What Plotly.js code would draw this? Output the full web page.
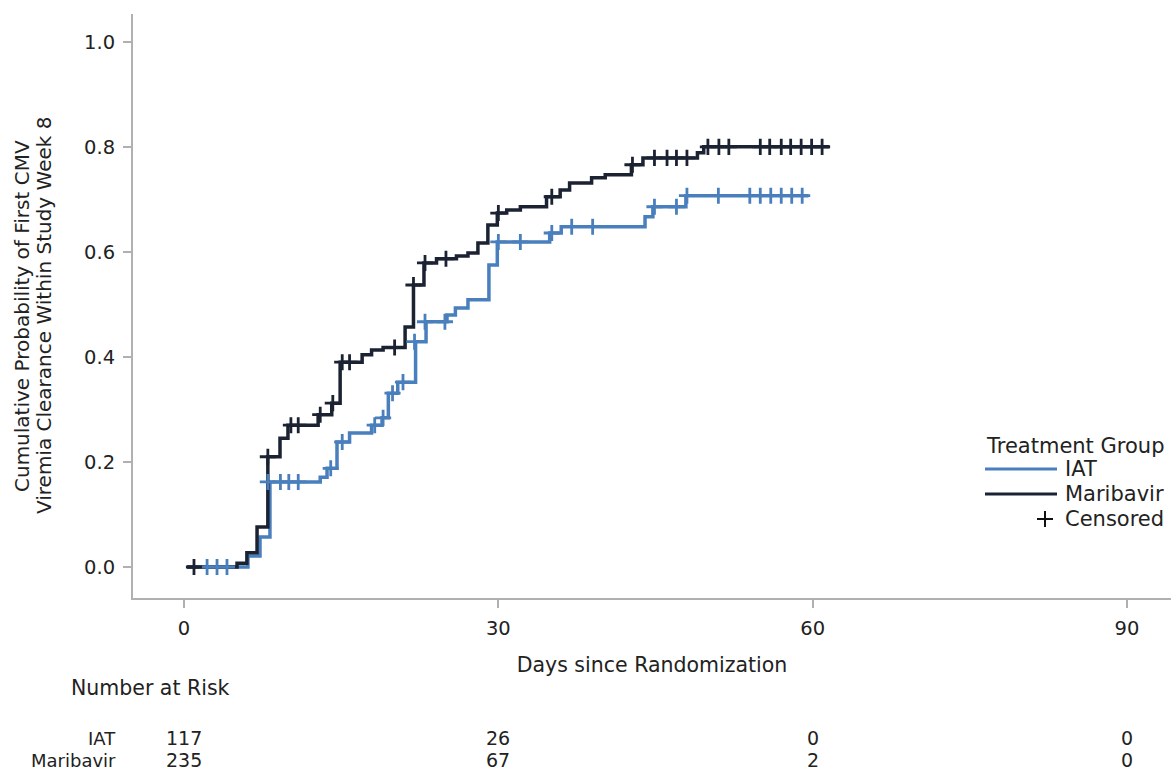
<!DOCTYPE html>
<html>
<head>
<meta charset="utf-8">
<script src="https://cdn.plot.ly/plotly-3.0.1.min.js"></script>
<style>
  html, body { margin: 0; padding: 0; background: #ffffff; }
  #chart { width: 1171px; height: 771px; }
</style>
</head>
<body>
<div id="chart"></div>
<script>
// ---- Data ----
const iatTime = [0.3, 6.1, 7.25, 8.2, 13.0, 13.65, 14.6, 15.8, 17.9, 18.9, 19.5, 20.4, 22.1, 23.1, 25.1, 25.9, 27.1, 29.1, 29.9, 34.9, 36.0, 44.0, 44.75, 47.9, 59.6];
const iatProb = [0, 0.021, 0.057, 0.162, 0.171, 0.188, 0.238, 0.255, 0.27, 0.284, 0.331, 0.352, 0.429, 0.467, 0.48, 0.493, 0.509, 0.575, 0.619, 0.636, 0.648, 0.667, 0.686, 0.707, 0.707];

const marTime = [0.3, 5.06, 6.0, 6.97, 8.0, 9.16, 9.92, 12.8, 14.1, 14.9, 17.0, 17.9, 19.0, 21.1, 21.9, 22.9, 24.1, 26.0, 27.1, 28.05, 29.0, 29.9, 30.8, 32.1, 34.6, 35.9, 36.8, 38.9, 40.2, 42.7, 43.8, 49.0, 49.6, 61.6];
const marProb = [0, 0.007, 0.027, 0.076, 0.21, 0.245, 0.27, 0.29, 0.312, 0.39, 0.404, 0.413, 0.418, 0.457, 0.537, 0.579, 0.587, 0.592, 0.598, 0.617, 0.651, 0.674, 0.68, 0.686, 0.705, 0.718, 0.731, 0.741, 0.747, 0.766, 0.779, 0.789, 0.80, 0.80];

const iatCensTime = [2.2, 3.15, 4.1, 8.0, 9.2, 10.0, 10.9, 14.0, 15.1, 18.2, 19.0, 19.9, 20.9, 22.0, 23.0, 24.9, 30.0, 32.1, 35.1, 37.0, 39.0, 44.9, 47.0, 48.0, 51.0, 54.0, 55.0, 56.0, 57.0, 58.0, 59.0];
const iatCensProb = [0, 0, 0, 0.162, 0.162, 0.162, 0.162, 0.188, 0.238, 0.27, 0.284, 0.331, 0.352, 0.429, 0.467, 0.467, 0.619, 0.619, 0.636, 0.648, 0.648, 0.686, 0.686, 0.707, 0.707, 0.707, 0.707, 0.707, 0.707, 0.707, 0.707];

const marCensTime = [0.95, 8.0, 10.2, 10.9, 13.0, 14.2, 15.1, 15.8, 20.1, 21.9, 23.0, 25.0, 30.0, 35.1, 42.8, 44.9, 46.1, 47.0, 48.0, 50.0, 51.05, 52.0, 55.0, 55.9, 57.0, 57.9, 58.9, 59.9, 60.9];
const marCensProb = [0, 0.21, 0.27, 0.27, 0.29, 0.312, 0.39, 0.39, 0.418, 0.537, 0.579, 0.587, 0.674, 0.705, 0.766, 0.779, 0.779, 0.779, 0.779, 0.80, 0.80, 0.80, 0.80, 0.80, 0.80, 0.80, 0.80, 0.80, 0.80];

const groups = ["IAT", "Maribavir"];
const riskTimes = [0, 30, 60, 90];
const iatRisk = [117, 26, 0, 0];
const marRisk = [235, 67, 2, 0];
const xTicks = [0, 30, 60, 90];
const yTicks = [0, 0.2, 0.4, 0.6, 0.8, 1.0];
const yTitleLines = ["Cumulative Probability of First CMV", "Viremia Clearance Within Study Week 8"];

// ---- Styles ----
const BLUE = "#4a7fbd";
const DARK = "#1b2232";
const TXT = "#222222";
const AXIS = "#b0b0b0";
const FONT = "DejaVu Sans, Arial, sans-serif";

const traces = [
  { x: iatTime, y: iatProb, type: "scatter", mode: "lines", line: { shape: "hv", color: BLUE, width: 3.5 }, name: groups[0], showlegend: false, hoverinfo: "skip" },
  { x: marTime, y: marProb, type: "scatter", mode: "lines", line: { shape: "hv", color: DARK, width: 3.5 }, name: groups[1], showlegend: false, hoverinfo: "skip" },
  { x: iatCensTime, y: iatCensProb, type: "scatter", mode: "markers", marker: { symbol: "cross-thin", size: 11.5, line: { color: BLUE, width: 2.8 }, color: BLUE }, name: "Censored", showlegend: false, hoverinfo: "skip" },
  { x: marCensTime, y: marCensProb, type: "scatter", mode: "markers", marker: { symbol: "cross-thin", size: 11.5, line: { color: DARK, width: 2.8 }, color: DARK }, name: "Censored", showlegend: false, hoverinfo: "skip" }
];

// plot area geometry (pixels): left 133, right 1171, top 14, bottom 598
const L = 133, R = 1171, T = 14, B = 598;
const px = v => (v - L) / (R - L);
const py = v => (B - v) / (B - T);

const annotations = [];
// y-axis title, two tightly spaced lines
annotations.push({ xref: "paper", yref: "paper", x: px(22), y: py(316), xanchor: "center", yanchor: "middle", textangle: -90, text: yTitleLines[0], showarrow: false, font: { family: FONT, size: 20, color: TXT } });
annotations.push({ xref: "paper", yref: "paper", x: px(44), y: py(316), xanchor: "center", yanchor: "middle", textangle: -90, text: yTitleLines[1], showarrow: false, font: { family: FONT, size: 20, color: TXT } });

// number-at-risk table
annotations.push({ xref: "paper", yref: "paper", x: px(69), y: py(688), xanchor: "left", yanchor: "middle", text: "Number at Risk", showarrow: false, font: { family: FONT, size: 20.5, color: TXT } });
const rows = [iatRisk, marRisk];
const rowY = [738, 760];
groups.forEach((g, i) => {
  annotations.push({ xref: "paper", yref: "paper", x: px(118), y: py(rowY[i]), xanchor: "right", yanchor: "middle", text: g, showarrow: false, font: { family: FONT, size: 18, color: TXT } });
  riskTimes.forEach((t, j) => {
    annotations.push({ xref: "x", yref: "paper", x: t, y: py(rowY[i]), xanchor: "center", yanchor: "middle", text: String(rows[i][j]), showarrow: false, font: { family: FONT, size: 19, color: TXT } });
  });
});

// legend (drawn manually to match the long line keys)
annotations.push({ xref: "paper", yref: "paper", x: px(1166), y: py(446), xanchor: "right", yanchor: "middle", text: "Treatment Group", showarrow: false, font: { family: FONT, size: 21, color: TXT } });
annotations.push({ xref: "paper", yref: "paper", x: px(1063), y: py(469), xanchor: "left", yanchor: "middle", text: groups[0], showarrow: false, font: { family: FONT, size: 21, color: TXT } });
annotations.push({ xref: "paper", yref: "paper", x: px(1063), y: py(494), xanchor: "left", yanchor: "middle", text: groups[1], showarrow: false, font: { family: FONT, size: 21, color: TXT } });
annotations.push({ xref: "paper", yref: "paper", x: px(1063), y: py(519), xanchor: "left", yanchor: "middle", text: "Censored", showarrow: false, font: { family: FONT, size: 21, color: TXT } });

const shapes = [
  { type: "line", xref: "paper", yref: "paper", x0: px(985), x1: px(1057), y0: py(469), y1: py(469), line: { color: BLUE, width: 3 } },
  { type: "line", xref: "paper", yref: "paper", x0: px(985), x1: px(1057), y0: py(494), y1: py(494), line: { color: DARK, width: 3 } },
  { type: "line", xref: "paper", yref: "paper", x0: px(1037), x1: px(1053), y0: py(519), y1: py(519), line: { color: "#111111", width: 2 } },
  { type: "line", xref: "paper", yref: "paper", x0: px(1045), x1: px(1045), y0: py(511), y1: py(527), line: { color: "#111111", width: 2 } }
];

const layout = {
  width: 1171, height: 771,
  margin: { l: L, r: 1171 - R, t: T, b: 771 - B, pad: 0 },
  paper_bgcolor: "#ffffff", plot_bgcolor: "#ffffff",
  font: { family: FONT, size: 19.5, color: TXT },
  showlegend: false,
  xaxis: {
    range: [-4.87, 94.2], tickvals: xTicks, ticktext: xTicks.map(String),
    showgrid: false, zeroline: false, showline: true, linecolor: AXIS, linewidth: 2,
    ticks: "outside", ticklen: 8, tickcolor: AXIS, tickwidth: 2, ticklabelstandoff: 4,
    tickfont: { family: FONT, size: 19.5, color: TXT },
    title: { text: "Days since Randomization", font: { family: FONT, size: 20.5, color: TXT }, standoff: 18 }
  },
  yaxis: {
    range: [-0.059, 1.053], tickvals: yTicks, ticktext: yTicks.map(v => v.toFixed(1)),
    showgrid: false, zeroline: false, showline: true, linecolor: AXIS, linewidth: 2,
    ticks: "outside", ticklen: 8, tickcolor: AXIS, tickwidth: 2, ticklabelstandoff: 4,
    tickfont: { family: FONT, size: 19.5, color: TXT }
  },
  annotations: annotations,
  shapes: shapes
};

Plotly.newPlot("chart", traces, layout, { displayModeBar: false, staticPlot: true });
</script>
</body>
</html>
